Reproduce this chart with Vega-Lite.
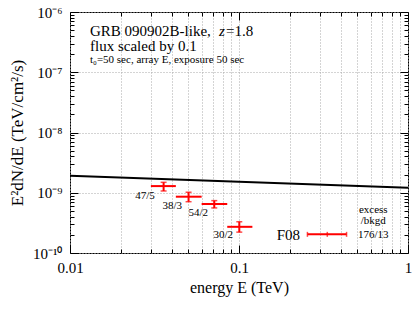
{
  "$schema": "https://vega.github.io/schema/vega-lite/v6.json",
  "width": 338,
  "height": 241,
  "autosize": "none",
  "padding": {"left": 70, "top": 12, "right": 7, "bottom": 59},
  "background": "white",
  "config": {
    "font": "Liberation Serif",
    "view": {"stroke": "black", "strokeWidth": 1},
    "axis": {
      "labelFont": "Liberation Serif",
      "titleFont": "Liberation Serif",
      "labelFontSize": 15,
      "titleFontSize": 16,
      "titleFontWeight": "normal",
      "labelColor": "black",
      "titleColor": "black",
      "tickColor": "black",
      "domain": false,
      "gridColor": "#a8a8a8",
      "gridDash": [1, 2],
      "gridWidth": 1,
      "labelFlush": false,
      "labelOverlap": false
    },
    "text": {"font": "Liberation Serif", "color": "black"}
  },
  "resolve": {"axis": {"x": "independent", "y": "independent"}},
  "datasets": {
    "model": [
      {"E": 0.01, "F": 1.91e-9},
      {"E": 1, "F": 1.21e-9}
    ],
    "points": [
      {"label": "47/5", "E": 0.0358, "Elo": 0.0301, "Ehi": 0.0423, "F": 1.29e-9, "Flo": 1.07e-9, "Fhi": 1.49e-9},
      {"label": "38/3", "E": 0.0503, "Elo": 0.0423, "Ehi": 0.0601, "F": 8.6e-10, "Flo": 7.1e-10, "Fhi": 1.02e-9},
      {"label": "54/2", "E": 0.0714, "Elo": 0.0601, "Ehi": 0.0852, "F": 6.5e-10, "Flo": 5.6e-10, "Fhi": 7.4e-10},
      {"label": "30/2", "E": 0.1004, "Elo": 0.0852, "Ehi": 0.12, "F": 2.72e-10, "Flo": 2.22e-10, "Fhi": 3.3e-10}
    ],
    "f08": [
      {"name": "F08", "E": 0.333, "Elo": 0.254, "Ehi": 0.433, "F": 2.04e-10}
    ],
    "labels": [
      {"text": "47/5", "E": 0.0278, "F": 8.9e-10},
      {"text": "38/3", "E": 0.0403, "F": 6.0e-10},
      {"text": "54/2", "E": 0.0574, "F": 4.65e-10},
      {"text": "30/2", "E": 0.0807, "F": 1.96e-10},
      {"text": "176/13", "E": 0.623, "F": 1.98e-10},
      {"text": "excess", "E": 0.623, "F": 5.16e-10},
      {"text": "/bkgd", "E": 0.623, "F": 3.39e-10}
    ],
    "big": [
      {"text": "F08", "E": 0.196, "F": 1.98e-10}
    ],
    "title1": [
      {"text": "GRB 090902B-like,", "E": 0.01313, "F": 4.85e-7},
      {"text": "=1.8", "E": 0.0838, "F": 4.85e-7},
      {"text": "flux scaled by 0.1", "E": 0.01313, "F": 2.7e-7}
    ],
    "titlez": [
      {"text": "z", "E": 0.0762, "F": 4.85e-7}
    ],
    "title3": [
      {"text": "t₀=50 sec, array E, exposure 50 sec", "E": 0.01313, "F": 1.6e-7}
    ]
  },
  "layer": [
    {
      "data": {"name": "model"},
      "mark": {"type": "line", "color": "black", "strokeWidth": 2, "clip": true},
      "encoding": {
        "x": {
          "field": "E", "type": "quantitative",
          "scale": {"type": "log", "domain": [0.01, 1], "nice": false},
          "axis": {
            "orient": "bottom",
            "title": "energy E (TeV)",
            "titlePadding": 4,
            "values": [0.01, 0.1, 1],
            "labelExpr": "datum.value == 0.01 ? '0.01' : datum.value == 0.1 ? '0.1' : '1'",
            "tickSize": -8,
            "labelPadding": 15,
            "grid": true
          }
        },
        "y": {
          "field": "F", "type": "quantitative",
          "scale": {"type": "log", "domain": [1e-10, 1e-6], "nice": false},
          "axis": {
            "orient": "left",
            "title": "E²dN/dE (TeV/cm²/s)",
            "titleFontSize": 17,
            "titlePadding": 6,
            "values": [1e-10, 1e-9, 1e-8, 1e-7, 1e-6],
            "labelExpr": "datum.value == 1e-10 ? '10⁻¹⁰' : datum.value == 1e-9 ? '10⁻⁹' : datum.value == 1e-8 ? '10⁻⁸' : datum.value == 1e-7 ? '10⁻⁷' : '10⁻⁶'",
            "tickSize": -8,
            "labelPadding": 16,
            "grid": true
          }
        }
      }
    },
    {
      "data": {"name": "points"},
      "mark": {"type": "rule", "color": "#ff0000", "strokeWidth": 2},
      "encoding": {
        "x": {"field": "Elo", "type": "quantitative", "scale": {"type": "log", "domain": [0.01, 1], "nice": false},
          "axis": {"orient": "bottom", "title": null, "labels": false, "grid": true, "tickSize": -4,
            "values": [0.02, 0.03, 0.04, 0.05, 0.06, 0.07, 0.08, 0.09, 0.2, 0.3, 0.4, 0.5, 0.6, 0.7, 0.8, 0.9]}},
        "x2": {"field": "Ehi"},
        "y": {"field": "F", "type": "quantitative", "scale": {"type": "log", "domain": [1e-10, 1e-6], "nice": false},
          "axis": {"orient": "left", "title": null, "labels": false, "grid": false, "tickSize": -4,
            "values": [2e-10, 3e-10, 4e-10, 5e-10, 6e-10, 7e-10, 8e-10, 9e-10, 2e-9, 3e-9, 4e-9, 5e-9, 6e-9, 7e-9, 8e-9, 9e-9, 2e-8, 3e-8, 4e-8, 5e-8, 6e-8, 7e-8, 8e-8, 9e-8, 2e-7, 3e-7, 4e-7, 5e-7, 6e-7, 7e-7, 8e-7, 9e-7]}}
      }
    },
    {
      "data": {"name": "points"},
      "mark": {"type": "rule", "color": "#ff0000", "strokeWidth": 2},
      "encoding": {
        "x": {"field": "E", "type": "quantitative", "scale": {"type": "log", "domain": [0.01, 1], "nice": false},
          "axis": {"orient": "top", "title": null, "labels": false, "grid": false, "tickSize": -8, "values": [0.01, 0.1, 1]}},
        "y": {"field": "Flo", "type": "quantitative", "scale": {"type": "log", "domain": [1e-10, 1e-6], "nice": false},
          "axis": {"orient": "right", "title": null, "labels": false, "grid": false, "tickSize": -8, "values": [1e-10, 1e-9, 1e-8, 1e-7, 1e-6]}},
        "y2": {"field": "Fhi"}
      }
    },
    {
      "data": {"name": "points"},
      "transform": [{"fold": ["Flo", "Fhi"], "as": ["k", "v"]}],
      "mark": {"type": "tick", "orient": "horizontal", "color": "#ff0000", "size": 6, "thickness": 1.5},
      "encoding": {
        "x": {"field": "E", "type": "quantitative", "scale": {"type": "log", "domain": [0.01, 1], "nice": false},
          "axis": {"orient": "top", "title": null, "labels": false, "grid": false, "tickSize": -4,
            "values": [0.02, 0.03, 0.04, 0.05, 0.06, 0.07, 0.08, 0.09, 0.2, 0.3, 0.4, 0.5, 0.6, 0.7, 0.8, 0.9]}},
        "y": {"field": "v", "type": "quantitative", "scale": {"type": "log", "domain": [1e-10, 1e-6], "nice": false},
          "axis": {"orient": "right", "title": null, "labels": false, "grid": false, "tickSize": -4,
            "values": [2e-10, 3e-10, 4e-10, 5e-10, 6e-10, 7e-10, 8e-10, 9e-10, 2e-9, 3e-9, 4e-9, 5e-9, 6e-9, 7e-9, 8e-9, 9e-9, 2e-8, 3e-8, 4e-8, 5e-8, 6e-8, 7e-8, 8e-8, 9e-8, 2e-7, 3e-7, 4e-7, 5e-7, 6e-7, 7e-7, 8e-7, 9e-7]}}
      }
    },
    {
      "data": {"name": "f08"},
      "mark": {"type": "rule", "color": "#ff0000", "strokeWidth": 2},
      "encoding": {
        "x": {"field": "Elo", "type": "quantitative", "scale": {"type": "log", "domain": [0.01, 1], "nice": false}, "axis": null},
        "x2": {"field": "Ehi"},
        "y": {"field": "F", "type": "quantitative", "scale": {"type": "log", "domain": [1e-10, 1e-6], "nice": false}, "axis": null}
      }
    },
    {
      "data": {"name": "f08"},
      "transform": [{"fold": ["Elo", "E", "Ehi"], "as": ["k", "v"]}],
      "mark": {"type": "tick", "orient": "vertical", "color": "#ff0000", "size": 5, "thickness": 1.5},
      "encoding": {
        "x": {"field": "v", "type": "quantitative", "scale": {"type": "log", "domain": [0.01, 1], "nice": false}, "axis": null},
        "y": {"field": "F", "type": "quantitative", "scale": {"type": "log", "domain": [1e-10, 1e-6], "nice": false}, "axis": null}
      }
    },
    {
      "data": {"name": "labels"},
      "mark": {"type": "text", "fontSize": 11, "align": "center", "baseline": "middle"},
      "encoding": {
        "x": {"field": "E", "type": "quantitative", "scale": {"type": "log", "domain": [0.01, 1], "nice": false}, "axis": null},
        "y": {"field": "F", "type": "quantitative", "scale": {"type": "log", "domain": [1e-10, 1e-6], "nice": false}, "axis": null},
        "text": {"field": "text"}
      }
    },
    {
      "data": {"name": "big"},
      "mark": {"type": "text", "fontSize": 15, "align": "center", "baseline": "middle"},
      "encoding": {
        "x": {"field": "E", "type": "quantitative", "scale": {"type": "log", "domain": [0.01, 1], "nice": false}, "axis": null},
        "y": {"field": "F", "type": "quantitative", "scale": {"type": "log", "domain": [1e-10, 1e-6], "nice": false}, "axis": null},
        "text": {"field": "text"}
      }
    },
    {
      "data": {"name": "title1"},
      "mark": {"type": "text", "fontSize": 15, "align": "left", "baseline": "middle"},
      "encoding": {
        "x": {"field": "E", "type": "quantitative", "scale": {"type": "log", "domain": [0.01, 1], "nice": false}, "axis": null},
        "y": {"field": "F", "type": "quantitative", "scale": {"type": "log", "domain": [1e-10, 1e-6], "nice": false}, "axis": null},
        "text": {"field": "text"}
      }
    },
    {
      "data": {"name": "titlez"},
      "mark": {"type": "text", "fontSize": 15, "fontStyle": "italic", "align": "left", "baseline": "middle"},
      "encoding": {
        "x": {"field": "E", "type": "quantitative", "scale": {"type": "log", "domain": [0.01, 1], "nice": false}, "axis": null},
        "y": {"field": "F", "type": "quantitative", "scale": {"type": "log", "domain": [1e-10, 1e-6], "nice": false}, "axis": null},
        "text": {"field": "text"}
      }
    },
    {
      "data": {"name": "title3"},
      "mark": {"type": "text", "fontSize": 11, "align": "left", "baseline": "middle"},
      "encoding": {
        "x": {"field": "E", "type": "quantitative", "scale": {"type": "log", "domain": [0.01, 1], "nice": false}, "axis": null},
        "y": {"field": "F", "type": "quantitative", "scale": {"type": "log", "domain": [1e-10, 1e-6], "nice": false}, "axis": null},
        "text": {"field": "text"}
      }
    }
  ]
}
